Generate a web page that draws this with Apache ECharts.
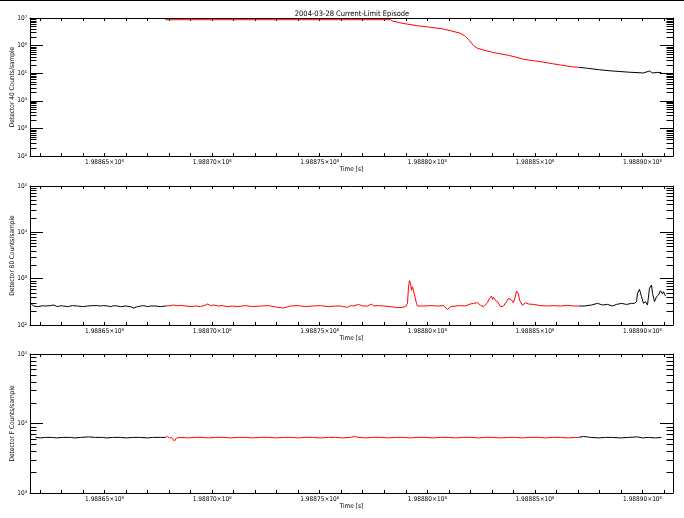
<!DOCTYPE html>
<html><head><meta charset="utf-8">
<script src="https://cdn.jsdelivr.net/npm/echarts@6/dist/echarts.min.js"></script>
<style>html,body{margin:0;padding:0;background:#fff}#c{width:684px;height:518px}</style>
</head><body><div id="c"></div>
<script>
const TITLE = '2004-03-28 Current-Limit Episode';
const X_NAME = 'Time [s]';
const TIME_BASE = 198860000;           // seconds; series times below are offsets from this
const X_MIN = 198861538, X_MAX = 198891418;
const EPISODE = [198867835, 198887027]; // current-limit episode (drawn red)
const xLabelTicks = [198865000, 198870000, 198875000, 198880000, 198885000, 198890000];

const panelNames = ['Detector 40 Counts/sample', 'Detector 80 Counts/sample', 'Detector F Counts/sample'];
const panelYMin = [1e2, 1e2, 1e3];
const panelYMax = [1e7, 1e5, 1e5];

const det40Time = [7835,18290,18383,18709,19034,19545,20149,20660,21079,21543,21776,21962,22147,22333,22612,23030,23356,23774,24099,24424,24796,25354,25819,26190,26701,27027,27445,28003,28514,29350,30047,30326,30466,30698,30884];
const det40Counts = [8670000,8670000,7780000,6760000,6070000,5250000,4600000,4090000,3470000,2790000,2140000,1510000,1000000,798000,693000,571000,509000,444000,386000,327000,293000,255000,221000,198000,172000,164000,151000,133000,122000,109000,102000,120000,102000,107000,105000];

const det80Time = [1608,1701,1887,2119,2258,2491,2630,2816,2955,3095,3281,3513,3745,3978,4210,4442,4675,4814,4954,5139,5279,5418,5604,5744,5976,6208,6348,6534,6673,6812,6998,7138,7370,7602,7835,8067,8206,8392,8532,8764,8996,9229,9461,9693,9786,9926,10065,10298,10483,10716,10948,11181,11552,11878,12249,12621,12946,13318,13643,14015,14340,14666,15038,15409,15735,15967,16106,16292,16432,16571,16803,16989,17222,17407,17500,17732,17965,18290,18616,18848,18987,19080,19127,19173,19220,19266,19313,19406,19499,19545,19824,20149,20475,20753,20939,21079,21311,21543,21776,22008,22147,22333,22472,22612,22797,22890,22983,23030,23076,23169,23262,23402,23541,23680,23773,23912,24005,24098,24145,24238,24285,24424,24564,24704,24936,25262,25587,25866,26191,26517,26796,27027,27306,27631,27910,28142,28374,28607,28793,29025,29257,29490,29629,29722,29769,29861,29954,30047,30140,30233,30326,30419,30466,30559,30651,30744,30837,30930,30976,31070];
const det80Counts = [284,257,249,260,257,262,270,249,260,257,249,262,257,249,257,262,262,257,262,257,249,260,257,249,257,249,233,249,257,262,249,257,257,249,257,262,270,260,266,257,249,257,249,270,284,262,270,257,262,249,257,249,262,249,257,262,245,233,257,262,249,257,262,249,257,257,249,241,262,257,278,257,257,284,257,262,257,249,237,241,249,293,671,904,790,563,671,444,293,257,257,262,257,262,216,249,257,262,257,284,293,303,266,249,303,376,423,357,396,335,319,249,257,319,376,346,303,423,541,467,346,266,303,284,278,262,257,262,257,266,257,257,257,270,293,270,278,257,278,293,278,293,293,319,484,589,408,293,319,270,620,730,484,319,408,444,550,467,523,423];

const detFTime = [1794,2026,2258,2584,2769,3048,3420,3606,3885,4256,4582,4907,5093,5372,5744,6022,6301,6673,6998,7231,7602,7835,7928,8021,8114,8253,8346,8532,8903,9229,9554,9833,10158,10483,10855,11227,11552,11878,12249,12621,12946,13318,13643,14015,14340,14666,15038,15409,15735,16060,16432,16618,16803,17129,17454,17826,18197,18523,18848,19220,19592,19917,20243,20614,20986,21311,21637,22008,22380,22705,23030,23402,23774,24099,24424,24796,25168,25493,25819,26191,26563,26888,27027,27260,27584,27956,28281,28607,28979,29350,29769,30001,30280,30605,30884];
const detFCounts = [6310,6200,6310,6310,6200,6310,6310,6200,6310,6420,6310,6310,6200,6310,6310,6200,6310,6310,6200,6310,6310,6310,6520,6200,6310,5600,6200,6310,6200,6310,6310,6200,6310,6310,6200,6310,6310,6200,6310,6310,6200,6310,6310,6200,6310,6310,6200,6310,6310,6200,6310,6520,6310,6200,6310,6310,6200,6310,6310,6200,6310,6310,6200,6310,6310,6200,6310,6310,6200,6310,6310,6200,6310,6310,6200,6310,6310,6200,6310,6310,6200,6310,6310,6520,6310,6200,6310,6310,6200,6310,6420,6200,6310,6200,6310];

const seriesTimes = [det40Time, det80Time, detFTime];
const seriesCounts = [det40Counts, det80Counts, detFCounts];

const FONT = "'Liberation Sans Narrow','DejaVu Sans Condensed','Liberation Sans',sans-serif";
const SUP = ['⁰','¹','²','³','⁴','⁵','⁶','⁷','⁸','⁹'];
const gridsPos = [{top:18,height:138},{top:186,height:139},{top:354,height:139}];

const xMinorTicks = [];
for (let t = 198862000; t <= X_MAX; t += 1000) xMinorTicks.push(t);

const grids = [], xAxes = [], yAxes = [], series = [];
gridsPos.forEach((g, i) => {
  grids.push({left:30, right:11, top:g.top, height:g.height, containLabel:false, outerBoundsMode:'none'});
  const baseX = {type:'value', gridIndex:i, min:X_MIN, max:X_MAX, splitLine:{show:false},
    axisLine:{lineStyle:{color:'#000', width:1}},
    axisTick:{inside:true, length:3, customValues:xMinorTicks, lineStyle:{color:'#000'}}};
  xAxes.push(Object.assign({}, baseX, {position:'bottom',
    name:X_NAME, nameLocation:'middle', nameGap:10, nameMoveOverlap:false,
    nameTextStyle:{fontFamily:FONT, fontSize:6.5, color:'#000'},
    axisLabel:{customValues:xLabelTicks, margin:3, fontFamily:FONT, fontSize:6.5, color:'#000',
      formatter: v => (v/1e8).toFixed(5) + '×10' + SUP[8]}}));
  xAxes.push(Object.assign({}, baseX, {position:'top', axisLabel:{show:false}}));
  const baseY = {type:'log', logBase:10, gridIndex:i, min:panelYMin[i], max:panelYMax[i], splitLine:{show:false},
    axisLine:{lineStyle:{color:'#000', width:1}},
    axisTick:{inside:true, length:13, lineStyle:{color:'#000'}}, minorTick:{show:false}};
  yAxes.push(Object.assign({}, baseY, {position:'left',
    name:panelNames[i], nameLocation:'middle', nameGap:14, nameMoveOverlap:false,
    nameTextStyle:{fontFamily:FONT, fontSize:6.5, color:'#000'},
    axisLabel:{margin:3, fontFamily:FONT, fontSize:6.5, color:'#000',
      formatter: v => '10' + SUP[Math.round(Math.log10(v))]}}));
  yAxes.push(Object.assign({}, baseY, {position:'right', axisLabel:{show:false}}));
});

seriesTimes.forEach((times, i) => {
  series.push({type:'line', xAxisIndex:2*i, yAxisIndex:2*i, showSymbol:false, symbol:'none',
    lineStyle:{width:1}, animation:false,
    data: times.map((t, k) => [TIME_BASE + t, seriesCounts[i][k]])});
});

// IDL-style minor ticks (2..9 x 10^n) on both vertical axes, placed through the axis scale
gridsPos.forEach((g, i) => {
  const vals = [];
  const lo = Math.round(Math.log10(panelYMin[i])), hi = Math.round(Math.log10(panelYMax[i]));
  for (let d = lo; d < hi; d++) for (let m = 2; m <= 9; m++) vals.push(m * Math.pow(10, d));
  series.push({type:'custom', xAxisIndex:2*i, yAxisIndex:2*i, silent:true, clip:false, animation:false,
    data: vals.map(v => [X_MIN, v]), encode:{x:0, y:1},
    renderItem: (params, api) => {
      const v = api.value(1);
      const pL = api.coord([X_MIN, v]);
      const pR = api.coord([X_MAX, v]);
      const y = Math.round(pL[1]) + 0.5;
      return {type:'group', children:[
        {type:'line', shape:{x1:pL[0], y1:y, x2:pL[0]+6.5, y2:y}, style:{stroke:'#000', lineWidth:1}},
        {type:'line', shape:{x1:pR[0]-6.5, y1:y, x2:pR[0], y2:y}, style:{stroke:'#000', lineWidth:1}}
      ]};
    }});
});

const chart = echarts.init(document.getElementById('c'), null, {renderer:'canvas'});
chart.setOption({
  animation:false,
  backgroundColor:'#fff',
  title:{text:TITLE, left:352, top:10, textAlign:'center', padding:0,
    textStyle:{fontFamily:FONT, fontSize:7.5, fontWeight:'normal', color:'#000'}},
  graphic:[{type:'rect', shape:{x:0, y:0, width:684, height:1}, style:{fill:'#000'}}],
  visualMap:[{type:'piecewise', show:false, dimension:0, seriesIndex:[0,1,2],
    pieces:[{lt:EPISODE[0], color:'#000'}, {gte:EPISODE[0], lte:EPISODE[1], color:'#ff0000'}, {gt:EPISODE[1], color:'#000'}]}],
  grid:grids, xAxis:xAxes, yAxis:yAxes, series:series
});
</script></body></html>
